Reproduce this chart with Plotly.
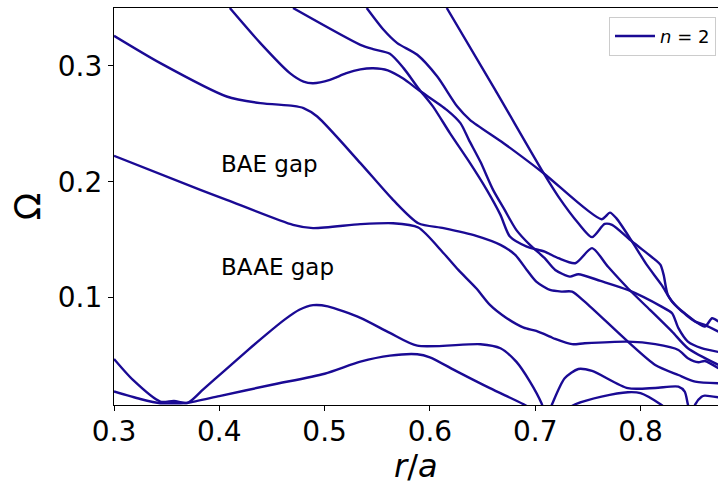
import plotly.graph_objects as go

# Continuum branches Omega(r/a) for toroidal mode number n = 2

r_b1 = [0.300, 0.325, 0.344, 0.357, 0.370, 0.400, 0.450, 0.500, 0.534, 0.562, 0.588,
        0.600, 0.626, 0.657, 0.689, 0.705, 0.722, 0.738, 0.763, 0.788, 0.800, 0.819, 0.830]
omega_b1 = [0.0190, 0.0125, 0.0088, 0.0088, 0.0092, 0.0150, 0.0248, 0.0343, 0.0447, 0.0499, 0.0511,
            0.0485, 0.0361, 0.0218, 0.0079, 0.0000, 0.0000, 0.0079, 0.0145, 0.0183, 0.0175, 0.0079, 0.0000]

r_b2 = [0.300, 0.318, 0.344, 0.357, 0.370, 0.385, 0.405, 0.425, 0.445, 0.462, 0.476, 0.489,
        0.503, 0.534, 0.562, 0.588, 0.648, 0.667, 0.682, 0.695, 0.706, 0.711, 0.716, 0.728,
        0.741, 0.754, 0.788, 0.814, 0.836, 0.842, 0.845, 0.8485, 0.852, 0.858, 0.861, 0.874]
omega_b2 = [0.0470, 0.0289, 0.0102, 0.0108, 0.0091, 0.0210, 0.0370, 0.0530, 0.0685, 0.0810, 0.0895, 0.0935,
            0.0925, 0.0825, 0.0695, 0.0585, 0.0598, 0.0563, 0.0447, 0.0275, 0.0088, -0.0040, 0.0079, 0.0304,
            0.0384, 0.0367, 0.0218, 0.0220, 0.0231, 0.0188, 0.0079, -0.0020, 0.0079, 0.0145, 0.0154, 0.0140]

r_b3 = [0.300, 0.382, 0.407, 0.470, 0.489, 0.534, 0.565, 0.589, 0.613, 0.627, 0.644, 0.657,
        0.673, 0.689, 0.701, 0.714, 0.719, 0.735, 0.747, 0.788, 0.814, 0.836, 0.845, 0.855,
        0.861, 0.874]
omega_b3 = [0.2224, 0.1930, 0.1844, 0.1628, 0.1600, 0.1634, 0.1642, 0.1605, 0.1383, 0.1239, 0.1081, 0.0937,
            0.0822, 0.0741, 0.0712, 0.0663, 0.0643, 0.0598, 0.0606, 0.0620, 0.0598, 0.0548, 0.0477, 0.0442,
            0.0453, 0.0390]

r_b4 = [0.300, 0.344, 0.407, 0.439, 0.470, 0.480, 0.493, 0.534, 0.565, 0.589, 0.613, 0.644,
        0.667, 0.681, 0.692, 0.701, 0.714, 0.725, 0.735, 0.747, 0.788, 0.814, 0.836, 0.852, 0.874]
omega_b4 = [0.3260, 0.3024, 0.2736, 0.2679, 0.2655, 0.2636, 0.2563, 0.2161, 0.1844, 0.1642, 0.1600, 0.1533,
            0.1455, 0.1369, 0.1239, 0.1138, 0.1066, 0.1052, 0.1052, 0.0965, 0.0620, 0.0419, 0.0332, 0.0275, 0.0261]

r_b5 = [0.410, 0.439, 0.467, 0.480, 0.489, 0.505, 0.520, 0.534, 0.546, 0.560, 0.575, 0.589,
        0.616, 0.629, 0.637, 0.648, 0.660, 0.671, 0.682, 0.695, 0.709, 0.719, 0.733, 0.741,
        0.762, 0.788, 0.820, 0.830, 0.836, 0.845, 0.858, 0.874]
omega_b5 = [0.3500, 0.3197, 0.2938, 0.2865, 0.2851, 0.2880, 0.2935, 0.2970, 0.2980, 0.2962, 0.2889, 0.2794,
            0.2621, 0.2506, 0.2362, 0.2172, 0.1930, 0.1757, 0.1585, 0.1455, 0.1340, 0.1239, 0.1181, 0.1202,
            0.1144, 0.1066, 0.0922, 0.0865, 0.0736, 0.0620, 0.0563, 0.0531]

r_b6 = [0.470, 0.534, 0.546, 0.562, 0.575, 0.589, 0.603, 0.619, 0.638, 0.654, 0.667, 0.676,
        0.692, 0.709, 0.722, 0.738, 0.754, 0.769, 0.788, 0.809, 0.830, 0.845, 0.874]
omega_b6 = [0.3500, 0.3182, 0.3145, 0.3105, 0.2981, 0.2808, 0.2649, 0.2420, 0.2163, 0.1930, 0.1714, 0.1527,
            0.1440, 0.1397, 0.1340, 0.1297, 0.1427, 0.1268, 0.1081, 0.0894, 0.0706, 0.0563, 0.0419]

r_b7 = [0.540, 0.556, 0.569, 0.588, 0.607, 0.626, 0.638, 0.670, 0.708, 0.763, 0.771, 0.777,
        0.792, 0.806, 0.820, 0.830, 0.842, 0.861, 0.868, 0.874]
omega_b7 = [0.3500, 0.3312, 0.3197, 0.3096, 0.2908, 0.2649, 0.2535, 0.2333, 0.2074, 0.1677, 0.1734, 0.1686,
            0.1484, 0.1282, 0.1110, 0.0965, 0.0865, 0.0750, 0.0822, 0.0793]

r_b8 = [0.616, 0.662, 0.708, 0.722, 0.741, 0.754, 0.766, 0.773, 0.792, 0.814, 0.819, 0.822,
        0.826, 0.836, 0.852, 0.861, 0.874]
omega_b8 = [0.3500, 0.2793, 0.2074, 0.1872, 0.1642, 0.1522, 0.1636, 0.1628, 0.1484, 0.1326, 0.1282, 0.1196,
            0.1023, 0.0908, 0.0793, 0.0764, 0.0706]

branches = [(r_b1, omega_b1), (r_b2, omega_b2), (r_b3, omega_b3), (r_b4, omega_b4),
            (r_b5, omega_b5), (r_b6, omega_b6), (r_b7, omega_b7), (r_b8, omega_b8)]

x_ticks = [0.3, 0.4, 0.5, 0.6, 0.7, 0.8]
y_ticks = [0.1, 0.2, 0.3]
gap_labels = [("BAE gap", 0.4, 0.2155), ("BAAE gap", 0.4, 0.1262)]

LINE_COLOR = "#1a0a94"
FONT = "DejaVu Sans"

fig = go.Figure()
for i, (r, om) in enumerate(branches):
    fig.add_trace(go.Scatter(
        x=r, y=om, mode="lines",
        line=dict(color=LINE_COLOR, width=2.4, shape="spline", smoothing=0.7),
        name="<i>n</i> = 2", showlegend=(i == 0), hoverinfo="skip",
    ))

for text, gx, gy in gap_labels:
    fig.add_annotation(x=gx, y=gy, text=text, showarrow=False, xanchor="left", yanchor="middle",
                       font=dict(family=FONT, size=23, color="black"))

# x-axis title, placed below the tick labels
fig.add_annotation(x=0.5, y=-0.203, xref="paper", yref="paper", text="<i>r</i>/<i>a</i>",
                   showarrow=False, xanchor="center", yanchor="bottom", borderpad=0,
                   font=dict(family=FONT, size=32, color="black"))

fig.update_layout(
    width=718, height=485,
    margin=dict(l=114, r=0, t=8, b=80),
    paper_bgcolor="white", plot_bgcolor="white",
    font=dict(family=FONT, color="black"),
    legend=dict(x=0.9967, y=0.978, xanchor="right", yanchor="top",
                bgcolor="rgba(255,255,255,0.8)", bordercolor="#cccccc", borderwidth=1,
                font=dict(family=FONT, size=18), itemwidth=40),
)
fig.update_xaxes(
    range=[0.3, 0.8736], tickvals=x_ticks, ticktext=[f"{v:.1f}" for v in x_ticks],
    showgrid=False, zeroline=False, showline=True, linecolor="black", linewidth=1.2, mirror=True,
    ticks="outside", ticklen=5, tickwidth=1.2, tickcolor="black", ticklabelstandoff=-4,
    tickfont=dict(family=FONT, size=28), automargin=False,
)
fig.update_yaxes(
    range=[0.0073, 0.35], tickvals=y_ticks, ticktext=[f"{v:.1f}" for v in y_ticks],
    showgrid=False, zeroline=False, showline=True, linecolor="black", linewidth=1.2,
    ticks="outside", ticklen=5, tickwidth=1.2, tickcolor="black",
    tickfont=dict(family=FONT, size=28), automargin=False,
    title=dict(text="Ω", font=dict(family=FONT, size=36), standoff=6),
)

fig.write_html("out.html")
